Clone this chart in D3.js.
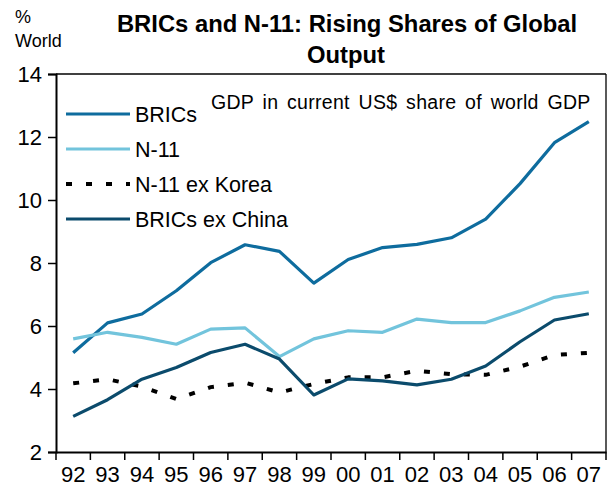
<!DOCTYPE html>
<html>
<head>
<meta charset="utf-8">
<script src="https://cdn.jsdelivr.net/npm/d3@7"></script>
<style>
  html, body { margin: 0; padding: 0; background: #fff; }
  svg { display: block; }
  text { font-family: "Liberation Sans", Arial, sans-serif; fill: #000; }
</style>
</head>
<body>
<svg id="chart" width="609" height="487"></svg>
<script>
const years = ["92","93","94","95","96","97","98","99","00","01","02","03","04","05","06","07"];
const brics = [5.15, 6.1, 6.38, 7.12, 8.01, 8.58, 8.37, 7.36, 8.11, 8.49, 8.59, 8.8, 9.39, 10.52, 11.82, 12.49];
const n11 = [5.59, 5.8, 5.64, 5.42, 5.9, 5.94, 5.03, 5.59, 5.85, 5.8, 6.22, 6.11, 6.11, 6.48, 6.91, 7.08];
const n11exKorea = [4.18, 4.31, 4.08, 3.68, 4.06, 4.2, 3.89, 4.16, 4.37, 4.37, 4.58, 4.47, 4.45, 4.71, 5.08, 5.15];
const bricsExChina = [3.13, 3.66, 4.31, 4.68, 5.16, 5.42, 4.95, 3.81, 4.32, 4.26, 4.13, 4.31, 4.73, 5.5, 6.19, 6.39];
const yTicks = [2, 4, 6, 8, 10, 12, 14];

const seriesNames = ["BRICs", "N-11", "N-11 ex Korea", "BRICs ex China"];
const seriesValues = [brics, n11, n11exKorea, bricsExChina];
const seriesColors = ["#0e6c9e", "#72c4dc", "#000000", "#0b4b6c"];
const seriesDash = [null, null, "6,14", null];
const seriesWidth = [3.2, 3.2, 4, 3.2];

const svg = d3.select("#chart");
const mLeft = 56, mRight = 606, mTop = 74, mBottom = 452;

const x = d3.scaleBand().domain(years).range([mLeft, mRight]).paddingInner(0).paddingOuter(0);
const y = d3.scaleLinear().domain([2, 14]).range([mBottom, mTop]);

// frame (top and right)
svg.append("line").attr("x1", mLeft).attr("x2", mRight).attr("y1", mTop).attr("y2", mTop).attr("stroke", "#000").attr("stroke-width", 1.3);
svg.append("line").attr("x1", mRight).attr("x2", mRight).attr("y1", mTop).attr("y2", mBottom).attr("stroke", "#000").attr("stroke-width", 1.3);

// y axis
const yAxis = d3.axisLeft(y).tickValues(yTicks).tickSize(8).tickPadding(6).tickFormat(d3.format("d"));
const yg = svg.append("g").attr("transform", `translate(${mLeft},0)`).call(yAxis);
yg.select(".domain").attr("stroke", "#000").attr("stroke-width", 2);
yg.selectAll(".tick line").attr("stroke", "#000").attr("stroke-width", 1.5);
yg.selectAll(".tick text").style("font-size", "22px").attr("dy", "0.35em").style("font-family", "'Liberation Sans', Arial, sans-serif");

// x axis: ticks between categories
const xAxis = d3.axisBottom(x).tickSize(0).tickPadding(14);
const xg = svg.append("g").attr("transform", `translate(0,${mBottom})`).call(xAxis);
xg.select(".domain").attr("stroke", "#000").attr("stroke-width", 2);
xg.selectAll(".tick text").style("font-size", "22px").attr("dy", "0.71em").style("font-family", "'Liberation Sans', Arial, sans-serif");
const boundaries = years.map(d => x(d)).concat([x(years[years.length - 1]) + x.bandwidth()]);
xg.selectAll("line.sep").data(boundaries).enter().append("line").attr("class", "sep")
  .attr("x1", d => d).attr("x2", d => d).attr("y1", 0).attr("y2", 8)
  .attr("stroke", "#000").attr("stroke-width", 1.5);

// lines
const line = d3.line().x((d, i) => x(years[i]) + x.bandwidth() / 2).y(d => y(d));
seriesValues.forEach((vals, k) => {
  svg.append("path").datum(vals).attr("d", line)
    .attr("fill", "none").attr("stroke", seriesColors[k]).attr("stroke-width", seriesWidth[k])
    .attr("stroke-linejoin", "round")
    .attr("stroke-dasharray", seriesDash[k]);
});

// legend
const legY = [114, 149, 184, 219];
seriesNames.forEach((name, k) => {
  svg.append("line").attr("x1", 66).attr("x2", 130).attr("y1", legY[k]).attr("y2", legY[k])
    .attr("stroke", seriesColors[k]).attr("stroke-width", seriesWidth[k]).attr("stroke-dasharray", seriesDash[k]);
  svg.append("text").attr("x", 135).attr("y", legY[k]).attr("dy", "0.36em")
    .style("font-size", "21.5px").text(name);
});

// subtitle
svg.append("text").attr("x", 211).attr("y", 102).attr("dy", "0.36em").style("font-size", "19.5px")
  .style("letter-spacing", "0.3px").style("word-spacing", "3px")
  .text("GDP in current US$ share of world GDP");

// title
svg.append("text").attr("x", 347).attr("y", 32).attr("text-anchor", "middle")
  .style("font-size", "23.8px").style("font-weight", "bold")
  .text("BRICs and N-11: Rising Shares of Global");
svg.append("text").attr("x", 346).attr("y", 63).attr("text-anchor", "middle")
  .style("font-size", "23.8px").style("font-weight", "bold")
  .text("Output");

// y unit label
svg.append("text").attr("x", 15).attr("y", 23).style("font-size", "18px").text("%");
svg.append("text").attr("x", 15).attr("y", 47).style("font-size", "18px").text("World");
</script>
</body>
</html>
